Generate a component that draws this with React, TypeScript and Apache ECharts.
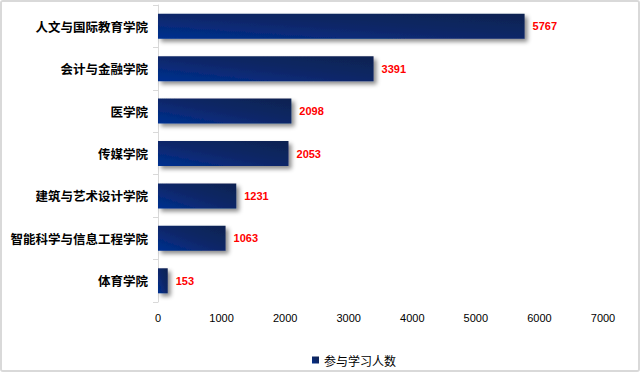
import React, { useEffect, useRef } from "react";
import * as echarts from "echarts";

const categories = [
  "人文与国际教育学院",
  "会计与金融学院",
  "医学院",
  "传媒学院",
  "建筑与艺术设计学院",
  "智能科学与信息工程学院",
  "体育学院",
];
const values = [5767, 3391, 2098, 2053, 1231, 1063, 153];
const seriesName = "参与学习人数";

export default function App() {
  const ref = useRef<HTMLDivElement>(null);
  useEffect(() => {
    if (!ref.current) return;
    const chart = echarts.init(ref.current, null, { renderer: "svg" });
    chart.setOption({
      animation: false,
      backgroundColor: "#ffffff",
      grid: { left: 158, right: 37, top: 5, bottom: 70, containLabel: false },
      legend: {
        data: [{ name: seriesName, icon: "rect" }],
        left: 307,
        top: 349,
        itemWidth: 7,
        itemHeight: 7,
        itemGap: 4,
        textStyle: { fontSize: 12, color: "#000", fontFamily: "Noto Sans CJK SC" },
      },
      xAxis: {
        type: "value",
        min: 0,
        max: 7000,
        interval: 1000,
        axisLine: { show: false },
        axisTick: { show: false },
        splitLine: { show: false },
        axisLabel: {
          fontSize: 11,
          color: "#000",
          margin: 10,
          fontFamily: "Liberation Sans",
          formatter: (v: number) => String(v),
        },
      },
      yAxis: {
        type: "category",
        inverse: true,
        data: categories,
        axisLine: { show: true, lineStyle: { color: "#d9d9d9", width: 1 } },
        axisTick: { show: true, length: 5, lineStyle: { color: "#d9d9d9" } },
        axisLabel: {
          fontSize: 12.5,
          fontWeight: "bold",
          color: "#000",
          margin: 10,
          fontFamily: "Noto Sans CJK SC",
        },
      },
      series: [
        {
          name: seriesName,
          type: "bar",
          data: values,
          barCategoryGap: "41%",
          itemStyle: {
            color: new echarts.graphic.LinearGradient(0, 1, 1, 0, [
              { offset: 0, color: "#003090" },
              { offset: 0.5, color: "#0d2768" },
              { offset: 1, color: "#102350" },
            ]),
            shadowColor: "rgba(0,0,0,0.45)",
            shadowBlur: 4,
            shadowOffsetX: 3,
            shadowOffsetY: 3,
          },
          label: {
            show: true,
            position: "right",
            distance: 8,
            color: "#ff0000",
            fontSize: 11,
            fontWeight: "bold",
            fontFamily: "Liberation Sans",
          },
        },
      ],
    });
    return () => chart.dispose();
  }, []);
  return (
    <div
      style={{
        position: "fixed",
        left: 0,
        top: 0,
        width: 640,
        height: 372,
        boxSizing: "border-box",
        border: "2px solid #d9d9d9",
        borderRadius: 3,
        overflow: "hidden",
        background: "#fff",
      }}
    >
      <div ref={ref} style={{ position: "absolute", left: -2, top: -2, width: 640, height: 372 }} />
    </div>
  );
}
